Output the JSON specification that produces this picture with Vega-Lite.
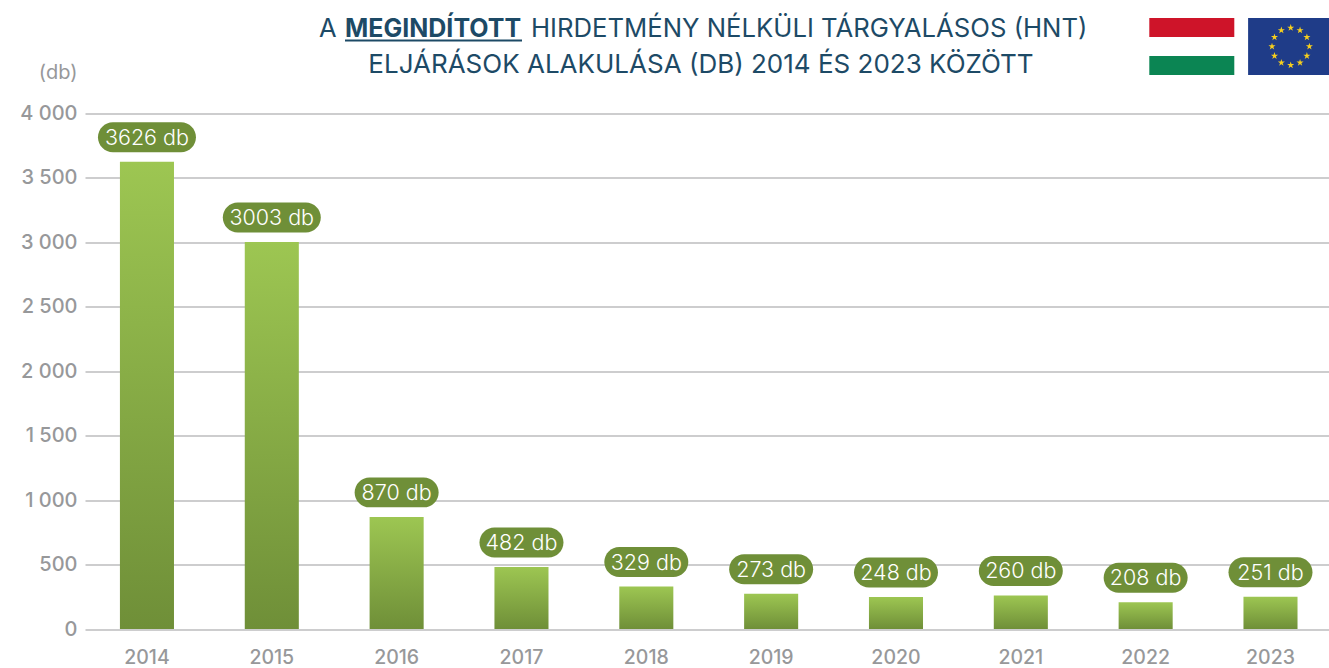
{"$schema":"https://vega.github.io/schema/vega-lite/v6.json","autosize":"none","width":1244,"height":515.5,"padding":{"left":85,"top":113.5,"right":0,"bottom":39},"background":"white","config":{"view":{"stroke":null},"font":"Inter"},
"layer":[
{"data":{"values":[{"year":"2014","value":3626,"label":"3626 db"},{"year":"2015","value":3003,"label":"3003 db"},{"year":"2016","value":870,"label":"870 db"},{"year":"2017","value":482,"label":"482 db"},{"year":"2018","value":329,"label":"329 db"},{"year":"2019","value":273,"label":"273 db"},{"year":"2020","value":248,"label":"248 db"},{"year":"2021","value":260,"label":"260 db"},{"year":"2022","value":208,"label":"208 db"},{"year":"2023","value":251,"label":"251 db"}]},
"encoding":{"x":{"field":"year","type":"nominal","scale":{"type":"band","paddingInner":0.567,"paddingOuter":0.266,"align":0.526},"axis":{"title":null,"domain":false,"ticks":false,"labelAngle":0,"labelFontSize":19.5,"labelColor":"#97989a","labelFont":"Inter","labelPadding":19,"labelFontWeight":500}},"y":{"field":"value","type":"quantitative","scale":{"domain":[0,4000],"nice":false},"axis":{"title":"(db)","titleX":-8,"titleY":-41.5,"titleAngle":0,"titleAlign":"right","titleBaseline":"middle","titleFontSize":20,"titleFontWeight":400,"titleColor":"#97989a","titleFont":"Inter","values":[0,500,1000,1500,2000,2500,3000,3500,4000],"labelExpr":"replace(format(datum.value,','),',',' ')","domain":false,"ticks":false,"grid":true,"gridColor":"#9b9c9e","gridWidth":1.1,"labelFontSize":20,"labelColor":"#97989a","labelFont":"Inter","labelPadding":8,"labelFontWeight":500}}},
"layer":[
{"mark":{"type":"bar","color":{"gradient":"linear","x1":0,"y1":0,"x2":0,"y2":1,"stops":[{"offset":0,"color":"#9dc652"},{"offset":1,"color":"#6f8f38"}]}}},
{"transform":[{"filter":"datum.value>=1000"}],"mark":{"type":"point","filled":true,"opacity":1,"color":"#6f8f38","size":9604,"yOffset":-24.5,"shape":"M-.694 -.306L.694 -.306A.306 .306 0 0 1 .694 .306L-.694 .306A.306 .306 0 0 1 -.694 -.306Z"}},
{"transform":[{"filter":"datum.value<1000"}],"mark":{"type":"point","filled":true,"opacity":1,"color":"#6f8f38","size":7056,"yOffset":-24.5,"shape":"M-.643 -.357L.643 -.357A.357 .357 0 0 1 .643 .357L-.643 .357A.357 .357 0 0 1 -.643 -.357Z"}},
{"mark":{"type":"text","color":"white","fontSize":21.5,"font":"Inter","fontWeight":300,"yOffset":-23,"baseline":"middle"},"encoding":{"text":{"field":"label"}}}
]},
{"data":{"values":[{"part":"hu-red"},{"part":"hu-green"},{"part":"eu-blue"},{"part":"eu-stars"}]},
"encoding":{"x":{"datum":1288.6,"type":"quantitative","scale":{"domain":[85,1329],"nice":false},"axis":null},"y":{"datum":46.5,"type":"quantitative","scale":{"domain":[629,113.5],"nice":false,"zero":false},"axis":null}},
"layer":[
{"mark":{"type":"point","filled":true,"opacity":1,"size":10000},"encoding":{"shape":{"field":"part","type":"nominal","legend":null,"scale":{"domain":["hu-red","hu-green","eu-blue","eu-stars"],"range":["M-2.786 -.57L-1.086 -.57L-1.086 -.19L-2.786 -.19Z","M-2.786 .19L-1.086 .19L-1.086 .57L-2.786 .57Z","M-.81 -.57L.81 -.57L.81 .57L-.81 .57Z","M.042 -.449l.044 .136 -.115 -.084 .142 0 -.115 .084zM.229 -.399l.044 .136 -.115 -.084 .142 0 -.115 .084zM.366 -.262l.044 .136 -.115 -.084 .142 0 -.115 .084zM.416 -.075l.044 .136 -.115 -.084 .142 0 -.115 .084zM.366 .112l.044 .136 -.115 -.084 .142 0 -.115 .084zM.229 .249l.044 .136 -.115 -.084 .142 0 -.115 .084zM.042 .299l.044 .136 -.115 -.084 .142 0 -.115 .084zM-.145 .249l.044 .136 -.115 -.084 .142 0 -.115 .084zM-.282 .112l.044 .136 -.115 -.084 .142 0 -.115 .084zM-.332 -.075l.044 .136 -.115 -.084 .142 0 -.115 .084zM-.282 -.262l.044 .136 -.115 -.084 .142 0 -.115 .084zM-.145 -.399l.044 .136 -.115 -.084 .142 0 -.115 .084z"]}},"color":{"field":"part","type":"nominal","legend":null,"scale":{"domain":["hu-red","hu-green","eu-blue","eu-stars"],"range":["#ce1429","#0b8553","#1f3c88","#f7cf1d"]}}}},
{"transform":[{"filter":"datum.part=='hu-red'"}],"mark":{"type":"text","text":"A","font":"Inter","fontSize":25.5,"color":"#1d4a66","align":"left","baseline":"middle"},"encoding":{"x":{"datum":319},"y":{"datum":29}}},
{"transform":[{"filter":"datum.part=='hu-red'"}],"mark":{"type":"text","text":"MEGINDÍTOTT","font":"Inter","fontSize":25,"fontWeight":700,"color":"#1d4a66","align":"left","baseline":"middle"},"encoding":{"x":{"datum":345},"y":{"datum":29}}},
{"transform":[{"filter":"datum.part=='hu-red'"}],"mark":{"type":"text","text":"HIRDETMÉNY NÉLKÜLI TÁRGYALÁSOS (HNT)","font":"Inter","fontSize":25.7,"color":"#1d4a66","align":"left","baseline":"middle"},"encoding":{"x":{"datum":531},"y":{"datum":29}}},
{"transform":[{"filter":"datum.part=='hu-red'"}],"mark":{"type":"text","text":"ELJÁRÁSOK ALAKULÁSA (DB) 2014 ÉS 2023 KÖZÖTT","font":"Inter","fontSize":26,"color":"#1d4a66","align":"center","baseline":"middle"},"encoding":{"x":{"datum":701},"y":{"datum":65}}},
{"transform":[{"filter":"datum.part=='hu-red'"}],"mark":{"type":"rule","color":"#1d4a66","strokeWidth":2},"encoding":{"x":{"datum":345},"x2":{"datum":522},"y":{"datum":40.5}}}
]}
],
"resolve":{"scale":{"x":"independent","y":"independent"}}}
